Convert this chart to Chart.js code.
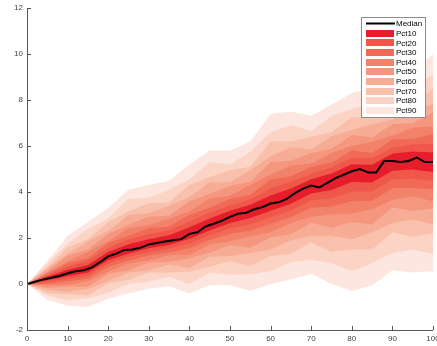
<!DOCTYPE html>
<html>
<head>
<meta charset="utf-8">
<script src="https://cdn.jsdelivr.net/npm/chart.js@4"></script>
<style>
  html, body { margin: 0; padding: 0; background: #fff; overflow: hidden; }
  #wrap { width: 437px; height: 346px; position: relative; }
</style>
</head>
<body>
<div id="wrap"><canvas id="fanChart"></canvas></div>
<script>
// band edges sampled every 5 steps, median every 2
const xs = [0, 5, 10, 15, 20, 25, 30, 35, 40, 45, 50, 55, 60, 65, 70, 75, 80, 85, 90, 95, 100];
const medX = [0, 2, 4, 6, 8, 10, 12, 14, 16, 18, 20, 22, 24, 26, 28, 30, 32, 34, 36, 38, 40, 42, 44, 46, 48, 50,
              52, 54, 56, 58, 60, 62, 64, 66, 68, 70, 72, 74, 76, 78, 80, 82, 84, 86, 88, 90, 92, 94, 96, 98, 100];
const median = [0, 0.1, 0.2, 0.27, 0.35, 0.47, 0.55, 0.6, 0.72, 0.95, 1.2, 1.32, 1.48, 1.5, 1.58, 1.72, 1.78, 1.85, 1.9, 1.95,
                2.18, 2.25, 2.5, 2.62, 2.75, 2.92, 3.05, 3.1, 3.25, 3.35, 3.5, 3.55, 3.7, 3.95, 4.15, 4.28, 4.2, 4.4, 4.6, 4.75,
                4.9, 5.0, 4.85, 4.85, 5.35, 5.35, 5.3, 5.35, 5.5, 5.3, 5.3];

const pct10Hi = [0, 0.31, 0.62, 0.83, 1.39, 1.73, 1.95, 2.12, 2.47, 2.85, 3.18, 3.45, 3.85, 4.15, 4.55, 4.8, 5.21, 5.18, 5.66, 5.76, 5.72];
const pct10Lo = [0, 0.16, 0.34, 0.5, 1.03, 1.33, 1.55, 1.7, 1.97, 2.33, 2.65, 2.87, 3.18, 3.49, 3.94, 4.09, 4.43, 4.41, 4.92, 4.98, 4.87];
const pct20Hi = [0, 0.37, 0.75, 1.0, 1.56, 1.94, 2.16, 2.33, 2.71, 3.11, 3.41, 3.69, 4.16, 4.45, 4.79, 5.06, 5.48, 5.47, 5.94, 6.06, 6.1];
const pct20Lo = [0, 0.08, 0.23, 0.37, 0.89, 1.18, 1.39, 1.54, 1.76, 2.12, 2.42, 2.59, 2.9, 3.2, 3.63, 3.73, 4.02, 4.02, 4.54, 4.58, 4.49];
const pct30Hi = [0, 0.43, 0.9, 1.12, 1.78, 2.1, 2.42, 2.5, 3.0, 3.32, 3.7, 3.88, 4.55, 4.68, 5.1, 5.28, 5.8, 5.7, 6.28, 6.3, 6.52];
const pct30Lo = [0, 0.0, 0.11, 0.24, 0.74, 1.02, 1.24, 1.38, 1.55, 1.91, 2.18, 2.31, 2.62, 2.91, 3.32, 3.37, 3.6, 3.62, 4.16, 4.19, 4.11];
const pct40Hi = [0, 0.5, 0.98, 1.4, 1.86, 2.44, 2.55, 2.84, 3.15, 3.72, 3.84, 4.3, 4.75, 5.15, 5.24, 5.7, 6.0, 6.18, 6.45, 6.8, 6.85];
const pct40Lo = [0, -0.07, -0.04, 0.12, 0.53, 0.89, 1.02, 1.25, 1.27, 1.72, 1.86, 2.06, 2.25, 2.65, 2.92, 3.03, 3.06, 3.25, 3.66, 3.82, 3.6];
const pct50Hi = [0, 0.55, 1.23, 1.5, 2.18, 2.58, 2.92, 2.97, 3.6, 3.92, 4.27, 4.45, 5.3, 5.36, 5.7, 5.88, 6.48, 6.38, 6.95, 7.0, 7.45];
const pct50Lo = [0, -0.17, -0.12, -0.12, 0.44, 0.6, 0.93, 0.96, 1.12, 1.36, 1.68, 1.58, 2.03, 2.16, 2.66, 2.45, 2.7, 2.6, 3.33, 3.18, 3.28];
const pct60Hi = [0, 0.68, 1.32, 1.85, 2.3, 3.0, 3.08, 3.4, 3.78, 4.42, 4.42, 4.95, 5.55, 5.95, 5.85, 6.42, 6.7, 6.95, 7.15, 7.6, 7.8];
const pct60Lo = [0, -0.26, -0.34, -0.22, 0.13, 0.5, 0.6, 0.85, 0.7, 1.18, 1.22, 1.35, 1.5, 1.9, 2.1, 2.1, 1.95, 2.25, 2.65, 2.8, 2.6];
const pct70Hi = [0, 0.72, 1.6, 1.95, 2.68, 3.15, 3.52, 3.55, 4.3, 4.65, 4.95, 5.1, 6.2, 6.2, 6.4, 6.6, 7.25, 7.2, 7.75, 7.85, 8.5];
const pct70Lo = [0, -0.4, -0.45, -0.5, 0.02, 0.18, 0.5, 0.5, 0.53, 0.75, 1.0, 0.78, 1.22, 1.32, 1.8, 1.4, 1.5, 1.5, 2.25, 2.05, 2.2];
const pct80Hi = [0, 0.9, 1.75, 2.4, 2.85, 3.7, 3.75, 4.1, 4.55, 5.3, 5.2, 5.75, 6.6, 6.9, 6.65, 7.3, 7.6, 7.95, 8.1, 8.6, 9.1];
const pct80Lo = [0, -0.5, -0.72, -0.62, -0.38, 0.0, 0.1, 0.32, 0.0, 0.5, 0.4, 0.42, 0.55, 0.95, 1.05, 0.9, 0.55, 0.9, 1.35, 1.5, 1.3];
const pct90Hi = [0, 1.0, 2.1, 2.7, 3.3, 4.1, 4.3, 4.5, 5.2, 5.8, 5.8, 6.2, 7.4, 7.5, 7.3, 7.8, 8.3, 8.5, 8.8, 9.2, 10.0];
const pct90Lo = [0, -0.7, -0.95, -1.0, -0.65, -0.4, -0.2, -0.1, -0.4, -0.05, -0.05, -0.3, 0.0, 0.2, 0.45, 0.0, -0.3, -0.05, 0.6, 0.5, 0.55];

const bandNames = ['Pct10', 'Pct20', 'Pct30', 'Pct40', 'Pct50', 'Pct60', 'Pct70', 'Pct80', 'Pct90'];
const bandHi = [pct10Hi, pct20Hi, pct30Hi, pct40Hi, pct50Hi, pct60Hi, pct70Hi, pct80Hi, pct90Hi];
const bandLo = [pct10Lo, pct20Lo, pct30Lo, pct40Lo, pct50Lo, pct60Lo, pct70Lo, pct80Lo, pct90Lo];
const bandColors = ['#E61E2B', '#EE5749', '#F06A56', '#F3826A', '#F5977F', '#F7AC95', '#F9C0AB', '#FBD4C6', '#FDE6DF'];

const yTicks = [-2, 0, 2, 4, 6, 8, 10, 12];
const xTicks = [0, 10, 20, 30, 40, 50, 60, 70, 80, 90, 100];

const axisColor = '#555';
Chart.defaults.font.family = '"Liberation Sans", Arial, Helvetica, sans-serif';

const pts = (xv, yv) => xv.map((x, i) => ({ x: x, y: yv[i] }));

const datasets = [{
  label: 'Median',
  data: pts(medX, median),
  borderColor: '#000',
  borderWidth: 2,
  pointRadius: 0,
  fill: false
}];
bandNames.forEach((name, i) => {
  datasets.push({
    label: name,
    data: pts(xs, bandHi[i]),
    backgroundColor: bandColors[i],
    borderWidth: 0,
    pointRadius: 0,
    fill: '+1'
  });
  datasets.push({
    label: name + '_lo',
    data: pts(xs, bandLo[i]),
    borderWidth: 0,
    pointRadius: 0,
    fill: false
  });
});

// matlab style axes: left + bottom lines with ticks pointing inward
const axesPlugin = {
  id: 'axesPlugin',
  afterDatasetsDraw(chart) {
    const { ctx, chartArea: a, scales: { x, y } } = chart;
    ctx.save();
    ctx.strokeStyle = axisColor;
    ctx.lineWidth = 1;
    ctx.beginPath();
    ctx.moveTo(a.left + 0.5, a.top);
    ctx.lineTo(a.left + 0.5, a.bottom + 0.5);
    ctx.lineTo(a.right, a.bottom + 0.5);
    yTicks.forEach(v => {
      const p = Math.round(y.getPixelForValue(v)) + 0.5;
      ctx.moveTo(a.left, p);
      ctx.lineTo(a.left + 4, p);
    });
    xTicks.forEach(v => {
      const p = Math.round(x.getPixelForValue(v)) + 0.5;
      ctx.moveTo(p, a.bottom);
      ctx.lineTo(p, a.bottom - 4);
    });
    ctx.stroke();
    ctx.restore();
  }
};

// legend box drawn inside the plot, top right
const boxLegend = {
  id: 'boxLegend',
  afterDraw(chart) {
    const ctx = chart.ctx;
    const left = 361, top = 17, w = 64, h = 100;
    ctx.save();
    ctx.fillStyle = '#fff';
    ctx.fillRect(left, top, w, h);
    ctx.strokeStyle = '#8c8c8c';
    ctx.lineWidth = 1;
    ctx.strokeRect(left + 0.5, top + 0.5, w, h);
    ctx.font = '8px "Liberation Sans", Arial, sans-serif';
    ctx.textBaseline = 'middle';
    ctx.fillStyle = '#000';
    const rowH = 9.65;
    let cy = 23.5;
    ctx.strokeStyle = '#000';
    ctx.lineWidth = 2;
    ctx.beginPath();
    ctx.moveTo(366, cy);
    ctx.lineTo(395, cy);
    ctx.stroke();
    ctx.fillText('Median', 396, cy + 0.5);
    bandNames.forEach((name, i) => {
      cy = 23.5 + rowH * (i + 1);
      ctx.fillStyle = bandColors[i];
      ctx.fillRect(366, Math.round(cy - 3.5), 28, 7);
      ctx.fillStyle = '#000';
      ctx.fillText(name, 396, cy + 0.5);
    });
    ctx.restore();
  }
};

new Chart(document.getElementById('fanChart'), {
  type: 'line',
  data: { datasets: datasets },
  plugins: [axesPlugin, boxLegend],
  options: {
    responsive: true,
    maintainAspectRatio: false,
    animation: false,
    layout: { padding: { top: 8, right: 4, bottom: 0, left: 0 } },
    elements: { line: { tension: 0 } },
    plugins: {
      legend: { display: false },
      tooltip: { enabled: false }
    },
    scales: {
      x: {
        type: 'linear',
        min: 0,
        max: 100,
        grid: { display: false, drawTicks: false },
        border: { display: false },
        ticks: { stepSize: 10, padding: 4, color: '#444', font: { size: 8 }, maxRotation: 0, autoSkip: false },
        afterFit: s => { s.height = 16; s.paddingRight = 0; s.paddingLeft = 0; }
      },
      y: {
        min: -2,
        max: 12,
        grid: { display: false, drawTicks: false },
        border: { display: false },
        ticks: { stepSize: 2, padding: 4, color: '#444', font: { size: 8 } },
        afterFit: s => { s.width = 27; s.paddingTop = 0; s.paddingBottom = 0; }
      }
    }
  }
});
</script>
</body>
</html>
